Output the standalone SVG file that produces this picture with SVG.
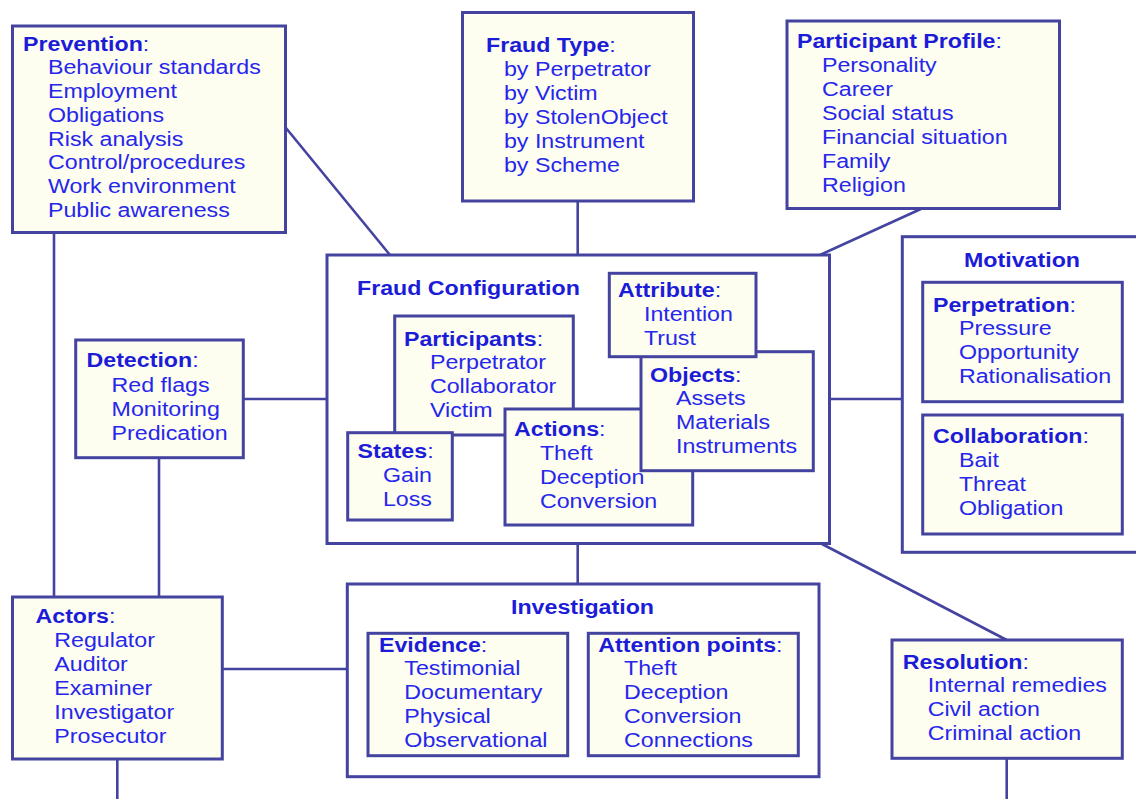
<svg xmlns="http://www.w3.org/2000/svg" width="1136" height="799" viewBox="0 0 1136 799">
  <style>
    .box { fill: #fdfdf0; stroke: #4444a0; stroke-width: 3; }
    .frame { fill: #ffffff; stroke: #4444a0; stroke-width: 3; }
    .link { stroke: #4444a0; stroke-width: 2.6; fill: none; }
    text { font-family: "Liberation Sans", Arial, sans-serif; font-size: 19.5px; fill: #2626ec; }
    .b { font-weight: bold; fill: #1c1cd8; }
    .title { font-weight: bold; fill: #1c1cd8; }
  </style>
  <rect width="1136" height="799" fill="#ffffff"/>

  <!-- connectors -->
  <g id="connectors">
    <line class="link" x1="54" y1="232" x2="54" y2="597"/>
    <line class="link" x1="286" y1="128" x2="390" y2="255"/>
    <line class="link" x1="577.7" y1="201" x2="577.7" y2="255"/>
    <line class="link" x1="923" y1="208" x2="820" y2="255"/>
    <line class="link" x1="243" y1="399" x2="327" y2="399"/>
    <line class="link" x1="159" y1="458" x2="159" y2="597"/>
    <line class="link" x1="829" y1="399" x2="902" y2="399"/>
    <line class="link" x1="577.7" y1="543" x2="577.7" y2="584"/>
    <line class="link" x1="822" y1="544" x2="1006.7" y2="640"/>
    <line class="link" x1="222" y1="669" x2="347" y2="669"/>
    <line class="link" x1="117.3" y1="759" x2="117.3" y2="799"/>
    <line class="link" x1="1006.7" y1="758" x2="1006.7" y2="799"/>
  </g>

  <!-- Prevention -->
  <g id="prevention">
    <rect class="box" x="12.5" y="26" width="273" height="206.5"/>
    <text transform="translate(23,50.5) scale(1.19,1)"><tspan class="b">Prevention</tspan>:<tspan x="21" dy="23.8">Behaviour standards</tspan><tspan x="21" dy="23.8">Employment</tspan><tspan x="21" dy="23.8">Obligations</tspan><tspan x="21" dy="23.8">Risk analysis</tspan><tspan x="21" dy="23.8">Control/procedures</tspan><tspan x="21" dy="23.8">Work environment</tspan><tspan x="21" dy="23.8">Public awareness</tspan></text>
  </g>

  <!-- Fraud Type -->
  <g id="fraud-type">
    <rect class="box" x="462.5" y="12.5" width="231" height="188.5"/>
    <text transform="translate(486,52) scale(1.19,1)"><tspan class="b">Fraud Type</tspan>:<tspan x="15.1" dy="24">by Perpetrator</tspan><tspan x="15.1" dy="24">by Victim</tspan><tspan x="15.1" dy="24">by StolenObject</tspan><tspan x="15.1" dy="24">by Instrument</tspan><tspan x="15.1" dy="24">by Scheme</tspan></text>
  </g>

  <!-- Participant Profile -->
  <g id="participant-profile">
    <rect class="box" x="787" y="21" width="272.5" height="187.5"/>
    <text transform="translate(797,48) scale(1.19,1)"><tspan class="b">Participant Profile</tspan>:<tspan x="21" dy="24">Personality</tspan><tspan x="21" dy="24">Career</tspan><tspan x="21" dy="24">Social status</tspan><tspan x="21" dy="24">Financial situation</tspan><tspan x="21" dy="24">Family</tspan><tspan x="21" dy="24">Religion</tspan></text>
  </g>

  <!-- Fraud Configuration -->
  <g id="fraud-configuration">
    <rect class="frame" x="327" y="255" width="502.5" height="288.5"/>
    <text class="title" transform="translate(357,295) scale(1.19,1)">Fraud Configuration</text>
  </g>

  <g id="participants">
    <rect class="box" x="394.7" y="316" width="178.6" height="119"/>
    <text transform="translate(404,346) scale(1.19,1)"><tspan class="b">Participants</tspan>:<tspan x="21.8" dy="23.3">Perpetrator</tspan><tspan x="21.8" dy="24">Collaborator</tspan><tspan x="21.8" dy="24">Victim</tspan></text>
  </g>

  <g id="states">
    <rect class="box" x="347.7" y="432.7" width="104.6" height="87.3"/>
    <text transform="translate(357.5,458) scale(1.19,1)"><tspan class="b">States</tspan>:<tspan x="21.4" dy="24.2">Gain</tspan><tspan x="21.4" dy="24.2">Loss</tspan></text>
  </g>

  <g id="actions">
    <rect class="box" x="505" y="409" width="187.7" height="116"/>
    <text transform="translate(514,436) scale(1.19,1)"><tspan class="b">Actions</tspan>:<tspan x="21.8" dy="24">Theft</tspan><tspan x="21.8" dy="24">Deception</tspan><tspan x="21.8" dy="24">Conversion</tspan></text>
  </g>

  <g id="objects">
    <rect class="box" x="641" y="351.7" width="172.3" height="119"/>
    <text transform="translate(650,381.5) scale(1.19,1)"><tspan class="b">Objects</tspan>:<tspan x="21.8" dy="24">Assets</tspan><tspan x="21.8" dy="24">Materials</tspan><tspan x="21.8" dy="24">Instruments</tspan></text>
  </g>

  <g id="attribute">
    <rect class="box" x="609.3" y="273.3" width="146.7" height="83.4"/>
    <text transform="translate(618,297) scale(1.19,1)"><tspan class="b">Attribute</tspan>:<tspan x="21.8" dy="24">Intention</tspan><tspan x="21.8" dy="24">Trust</tspan></text>
  </g>

  <!-- Motivation -->
  <g id="motivation">
    <rect class="frame" x="902.3" y="236.7" width="260" height="315.6"/>
    <text class="title" text-anchor="middle" transform="translate(1022,267) scale(1.19,1)">Motivation</text>
  </g>

  <g id="perpetration">
    <rect class="box" x="922.7" y="282.3" width="199.6" height="119.4"/>
    <text transform="translate(933,311.5) scale(1.19,1)"><tspan class="b">Perpetration</tspan>:<tspan x="21.8" dy="23.8">Pressure</tspan><tspan x="21.8" dy="23.8">Opportunity</tspan><tspan x="21.8" dy="23.8">Rationalisation</tspan></text>
  </g>

  <g id="collaboration">
    <rect class="box" x="922.7" y="415" width="199.6" height="119"/>
    <text transform="translate(933,443.3) scale(1.19,1)"><tspan class="b">Collaboration</tspan>:<tspan x="21.8" dy="24">Bait</tspan><tspan x="21.8" dy="24">Threat</tspan><tspan x="21.8" dy="24">Obligation</tspan></text>
  </g>

  <!-- Detection -->
  <g id="detection">
    <rect class="box" x="75.7" y="340" width="167.6" height="117.7"/>
    <text transform="translate(86.5,367.3) scale(1.19,1)"><tspan class="b">Detection</tspan>:<tspan x="21.1" dy="24.3">Red flags</tspan><tspan x="21.1" dy="24">Monitoring</tspan><tspan x="21.1" dy="24">Predication</tspan></text>
  </g>

  <!-- Actors -->
  <g id="actors">
    <rect class="box" x="12.5" y="597" width="209.8" height="162"/>
    <text transform="translate(35.5,623.3) scale(1.19,1)"><tspan class="b">Actors</tspan>:<tspan x="15.8" dy="24">Regulator</tspan><tspan x="15.8" dy="24">Auditor</tspan><tspan x="15.8" dy="24">Examiner</tspan><tspan x="15.8" dy="24">Investigator</tspan><tspan x="15.8" dy="24">Prosecutor</tspan></text>
  </g>

  <!-- Investigation -->
  <g id="investigation">
    <rect class="frame" x="347.3" y="584" width="471.7" height="192.7"/>
    <text class="title" text-anchor="middle" transform="translate(582.5,614) scale(1.19,1)">Investigation</text>
  </g>

  <g id="evidence">
    <rect class="box" x="368" y="633.3" width="199.7" height="122.4"/>
    <text transform="translate(379,651.7) scale(1.19,1)"><tspan class="b">Evidence</tspan>:<tspan x="21.3" dy="23.5">Testimonial</tspan><tspan x="21.3" dy="24">Documentary</tspan><tspan x="21.3" dy="24">Physical</tspan><tspan x="21.3" dy="24">Observational</tspan></text>
  </g>

  <g id="attention-points">
    <rect class="box" x="588.3" y="633.3" width="210" height="122.4"/>
    <text transform="translate(598.3,651.7) scale(1.19,1)"><tspan class="b">Attention points</tspan>:<tspan x="21.6" dy="23.5">Theft</tspan><tspan x="21.6" dy="24">Deception</tspan><tspan x="21.6" dy="24">Conversion</tspan><tspan x="21.6" dy="24">Connections</tspan></text>
  </g>

  <!-- Resolution -->
  <g id="resolution">
    <rect class="box" x="892" y="640" width="230.3" height="118.3"/>
    <text transform="translate(902.7,669) scale(1.19,1)"><tspan class="b">Resolution</tspan>:<tspan x="21" dy="23.5">Internal remedies</tspan><tspan x="21" dy="23.8">Civil action</tspan><tspan x="21" dy="23.8">Criminal action</tspan></text>
  </g>
</svg>
